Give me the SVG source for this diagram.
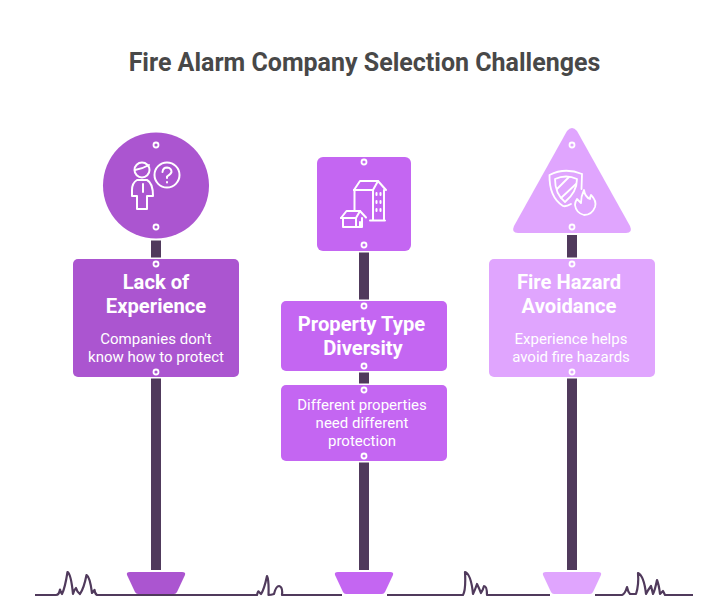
<svg xmlns="http://www.w3.org/2000/svg" width="728" height="616" viewBox="0 0 728 616">
<style>
text{font-family:Roboto,"Liberation Sans",sans-serif;text-anchor:middle;fill:#fff}
.title{font-size:25px;font-weight:700;fill:#484848}
.h{font-size:20.200px;font-weight:700}
.b{font-size:15px;font-weight:400}
.post{fill:#503A5C}
.hole{fill:none;stroke:#fff;stroke-width:1.800}
.ic{fill:none;stroke:#fff;stroke-width:2;stroke-linecap:round;stroke-linejoin:round}
.gr{fill:none;stroke:#503A5C;stroke-width:2.200;stroke-linejoin:round}
.a{fill:#AB55D0}.c{fill:#C466F2}.e{fill:#E0A5FE}
.s{stroke:#fff;stroke-width:3;paint-order:stroke}
</style>
<rect width="728" height="616" fill="#fff"/>
<text class="title" x="364.500" y="71">Fire Alarm Company Selection Challenges</text>
<g id="sign-circle">
<circle class="a s" cx="156" cy="185.500" r="53"/>
<circle class="hole" cx="156" cy="145" r="2.500"/><circle class="hole" cx="156" cy="227" r="2.500"/>
<g class="ic">
<circle cx="142" cy="170" r="7.500"/><path d="M135 170Q142 169 149 165"/>
<path d="M137 180H147Q153 183 153 196H147V209H137V196H132V190Q132 183 137 180Z"/><path d="M143 184V192"/>
<circle cx="167" cy="175" r="12.500"/><path d="M162.500 172Q163 167.500 167 167.500Q171.500 168 171.500 172Q171 174 167 176.500V178"/><path d="M167 182V182.500"/>
</g>
</g>
<g id="sign-lack">
<rect class="a s" x="73" y="259" width="166" height="118" rx="5"/>
<circle class="hole" cx="156" cy="264" r="2.500"/><circle class="hole" cx="156" cy="372" r="2.500"/>
<text class="h" x="156" y="289">Lack of</text><text class="h" x="156" y="313">Experience</text>
<text class="b" x="156" y="344">Companies don't</text><text class="b" x="156" y="362">know how to protect</text>
</g>
<g id="base-a"><path class="a s" d="M130 572H182Q186 572 185 575L177 592Q176 594 174 594H138Q136 594 135 592L127 575Q126 572 130 572Z"/></g>
<g id="sign-square">
<rect class="c s" x="317" y="157" width="94" height="94" rx="6"/>
<circle class="hole" cx="364" cy="162" r="2.500"/><circle class="hole" cx="364" cy="245" r="2.500"/>
<g class="ic">
<path d="M354 190L360 181H378L386 190"/><path d="M354 190H373L378 181"/><path d="M354.500 190V210"/><path d="M373 190V220.500M384 190V220.500M370 220.500H385"/>
<path d="M376.500 193V195M380.500 193V195M376.500 201V203M380.500 201V203M376.500 209V211M380.500 209V211"/>
<path d="M341 218L346.500 211H360L366 217.500"/><path d="M341 218H356L360 211"/><path d="M343 218V227H362V218"/><path d="M356 218V227M360 227V222"/>
</g>
</g>
<g id="sign-property">
<rect class="c s" x="281" y="301" width="166" height="70" rx="5"/>
<circle class="hole" cx="364" cy="306" r="2.500"/><circle class="hole" cx="364" cy="366" r="2.500"/>
<text class="h" x="361.500" y="331">Property Type</text><text class="h" x="363" y="355">Diversity</text>
</g>
<g id="sign-different">
<rect class="c s" x="281" y="385" width="166" height="76" rx="5"/>
<circle class="hole" cx="364" cy="390" r="2.500"/><circle class="hole" cx="364" cy="456" r="2.500"/>
<text class="b" x="362" y="410">Different properties</text><text class="b" x="362" y="428">need different</text><text class="b" x="362" y="446">protection</text>
</g>
<g id="base-c"><path class="c s" d="M338 572H390Q394 572 393 575L385 592Q384 594 382 594H346Q344 594 343 592L335 575Q334 572 338 572Z"/></g>
<g id="sign-triangle">
<path class="e s" d="M567 131Q572 125 577 131L630 226Q633 233 626 233H518Q511 233 514 226Z"/>
<circle class="hole" cx="572" cy="145" r="2.500"/><circle class="hole" cx="572" cy="227" r="2.500"/>
<g class="ic" style="stroke-width:1.800">
<path d="M582 174Q565 167 549.500 175Q549 197 563 206Q566 207 571 204M582 174L581.500 189"/>
<path d="M555 179Q566 174 577 179Q577 192 565 202Q555 194 555 179Z"/><path d="M557 189L569 177M561 198L576 184"/>
<path d="M584 190Q585 197 590 199Q590 197 591 195Q597 201 595 207Q592 215 584 215Q576 213 575 205Q575 202 577 199Q579 201 581 203Q581 196 584 190Z"/>
</g>
</g>
<g id="sign-fire">
<rect class="e s" x="489" y="259" width="166" height="118" rx="5"/>
<circle class="hole" cx="572" cy="264" r="2.500"/><circle class="hole" cx="572" cy="372" r="2.500"/>
<text class="h" x="569" y="289">Fire Hazard</text><text class="h" x="569" y="313">Avoidance</text>
<text class="b" x="571" y="344">Experience helps</text><text class="b" x="571" y="362">avoid fire hazards</text>
</g>
<g id="base-e"><path class="e s" d="M546 572H598Q602 572 601 575L593 592Q592 594 590 594H554Q552 594 551 592L543 575Q542 572 546 572Z"/></g>
<g id="connectors">
<rect class="post" x="151" y="240.500" width="10" height="17"/><rect class="post" x="151" y="378.500" width="10" height="191.500"/>
<rect class="post" x="359" y="252.500" width="10" height="47"/><rect class="post" x="359" y="372.500" width="10" height="11"/><rect class="post" x="359" y="462.500" width="10" height="107.500"/>
<rect class="post" x="567" y="235" width="10" height="22.500"/><rect class="post" x="567" y="378.500" width="10" height="191.500"/>
<path class="gr" d="M35 595H56Q59 595 60 589.500Q61 593 62 594Q65 588 67.500 572Q71 574 73 594Q74 590 76 588Q77 592 80 594Q84 588 86.500 575Q90 577 92 593Q93 592 94.500 590Q95 594 97 595H180"/>
<path class="gr" d="M180 595H257Q258 590 259 592L261 594Q264 590 267 576Q269 580 268.500 595Q271 595 274 594Q276 586 279 586Q283 587 282 595H342"/>
<path class="gr" d="M387 595H463Q466 590 465 572Q471 574 473 594Q475 590 477 584Q479 588 481 593Q483 590 484 586Q487 586 487 595H550"/>
<path class="gr" d="M595 595H622Q625 594 627 587Q628 592 630 594H636Q639 585 638 573Q644 576 646 594Q648 590 651 586Q652 590 653 594Q655 590 657 580Q659 585 660 594L663 591L665 595H693"/>
</g>
</svg>
